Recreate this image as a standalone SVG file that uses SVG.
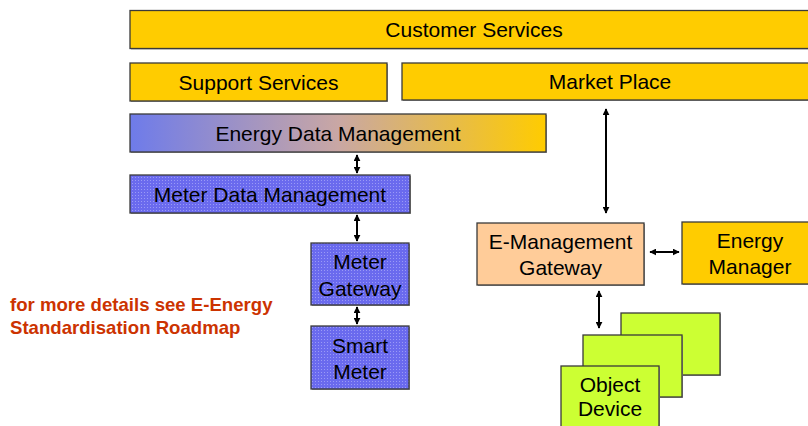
<svg xmlns="http://www.w3.org/2000/svg" width="808" height="426" viewBox="0 0 808 426">
<defs>
<linearGradient id="edmGrad" x1="0" y1="0" x2="1" y2="0">
<stop offset="0" stop-color="#6E7BEA"/>
<stop offset="0.5" stop-color="#C9A7A4"/>
<stop offset="1" stop-color="#FFCC00"/>
</linearGradient>
<pattern id="dots" width="3" height="3" patternUnits="userSpaceOnUse">
<rect width="3" height="3" fill="#6A6AEE"/>
<rect width="1" height="1" fill="#9A9AF6"/>
</pattern>
<marker id="ah" viewBox="0 0 10 10" refX="9" refY="5" markerWidth="7" markerHeight="7" markerUnits="userSpaceOnUse" orient="auto-start-reverse">
<path d="M0,0 L10,5 L0,10 z" fill="#000"/>
</marker>
</defs>
<style>
.box{stroke:#3a3a3a;stroke-width:1.3}
.sh{fill:#a0a0a0}
.yel{fill:#FFCC00}
.blue{fill:url(#dots)}
.peach{fill:#FFCC99}
.green{fill:#CCFF33}
text{font-family:"Liberation Sans",Arial,sans-serif;font-size:21px;fill:#000;text-anchor:middle}
.note{font-size:18.6px;font-weight:bold;fill:#CC3300;text-anchor:start}
.arr{stroke:#000;stroke-width:2;fill:none;marker-start:url(#ah);marker-end:url(#ah)}
</style>
<g id="customer-services">
<rect class="sh" x="131" y="11.5" width="688" height="38"/>
<rect class="box yel" x="130" y="10.5" width="688" height="38"/>
<text x="474" y="36.5">Customer Services</text>
</g>
<g id="support-services">
<rect class="sh" x="131" y="64" width="257" height="38"/>
<rect class="box yel" x="130" y="63" width="257" height="38"/>
<text x="258.5" y="89.5">Support Services</text>
</g>
<g id="market-place">
<rect class="sh" x="403" y="64" width="416" height="37"/>
<rect class="box yel" x="402" y="63" width="416" height="37"/>
<text x="610" y="89">Market Place</text>
</g>
<g id="energy-data-management">
<rect class="sh" x="131" y="115" width="416" height="38"/>
<rect class="box" fill="url(#edmGrad)" x="130" y="114" width="416" height="38"/>
<text x="338" y="140.5">Energy Data Management</text>
</g>
<g id="meter-data-management">
<rect class="sh" x="131" y="176" width="280" height="38"/>
<rect class="box blue" x="130" y="175" width="280" height="38"/>
<text x="270" y="201.5">Meter Data Management</text>
</g>
<g id="meter-gateway">
<rect class="sh" x="312" y="244" width="98" height="62"/>
<rect class="box blue" x="311" y="243" width="98" height="62"/>
<text x="360" y="269">Meter</text>
<text x="360" y="295.5">Gateway</text>
</g>
<g id="smart-meter">
<rect class="sh" x="312" y="327" width="98" height="63"/>
<rect class="box blue" x="311" y="326" width="98" height="63"/>
<text x="360" y="353">Smart</text>
<text x="360" y="379">Meter</text>
</g>
<g id="e-management-gateway">
<rect class="sh" x="478" y="224" width="167" height="62"/>
<rect class="box peach" x="477" y="223" width="167" height="62"/>
<text x="560.5" y="249">E-Management</text>
<text x="560.5" y="275">Gateway</text>
</g>
<g id="energy-manager">
<rect class="sh" x="683" y="223" width="136" height="62"/>
<rect class="box yel" x="682" y="222" width="136" height="62"/>
<text x="750" y="248">Energy</text>
<text x="750" y="273.5">Manager</text>
</g>
<g id="object-device">
<rect class="sh" x="622" y="314" width="99" height="62"/>
<rect class="box green" x="621" y="313" width="99" height="62"/>
<rect class="sh" x="584" y="336" width="99" height="62"/>
<rect class="box green" x="583" y="335" width="99" height="62"/>
<rect class="sh" x="562" y="367" width="98" height="62"/>
<rect class="box green" x="561" y="366" width="98" height="62"/>
<text x="610" y="391.5">Object</text>
<text x="610" y="416">Device</text>
</g>
<g id="note">
<text class="note" x="10" y="311">for more details see E-Energy</text>
<text class="note" x="10" y="334">Standardisation Roadmap</text>
</g>
<g id="connectors">
<line class="arr" x1="357" y1="155" x2="357" y2="173"/>
<line class="arr" x1="357" y1="215" x2="357" y2="241"/>
<line class="arr" x1="357" y1="307" x2="357" y2="324"/>
<line class="arr" x1="606" y1="109" x2="606" y2="213"/>
<line class="arr" x1="650" y1="252" x2="679" y2="252"/>
<line class="arr" x1="599" y1="291" x2="599" y2="328"/>
</g>
</svg>
